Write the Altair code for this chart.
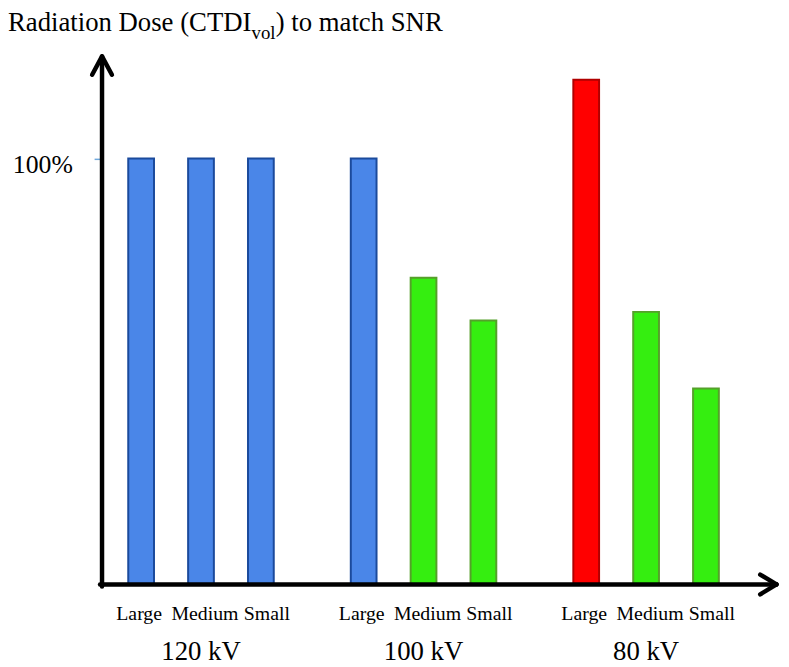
import altair as alt
import pandas as pd

# ---- data ----
kv_groups = ["120 kV", "100 kV", "80 kV"]
size_order = ["Large", "Medium", "Small"]
bar_kv = ["120 kV", "120 kV", "120 kV", "100 kV", "100 kV", "100 kV", "80 kV", "80 kV", "80 kV"]
bar_size = ["Large", "Medium", "Small", "Large", "Medium", "Small", "Large", "Medium", "Small"]
bar_dose = [100, 100, 100, 100, 72, 62, 118.5, 64, 46]
bar_kind = ["reference", "reference", "reference", "reference", "lower", "lower", "higher", "lower", "lower"]

kind_names = ["reference", "lower", "higher"]
kind_fill = ["#4a86e8", "#35ee10", "#ff0000"]
kind_stroke = ["#1b4a9c", "#55a02a", "#b00000"]

bars_df = pd.DataFrame({"kv": bar_kv, "size": bar_size, "dose": bar_dose, "kind": bar_kind})
groups_df = pd.DataFrame({"kv": kv_groups})
one = alt.Data(values=[{}])

W, H = 682, 534
FONT = "Liberation Serif"
AX = 4.5

x_scale = alt.Scale(paddingInner=0.1928, paddingOuter=0.113, align=0.182, round=False)
x_enc = alt.X("kv:N", sort=kv_groups, scale=x_scale, axis=None)
xo_enc = alt.XOffset("size:N", sort=size_order,
                     scale=alt.Scale(paddingInner=0.57, paddingOuter=0.285, round=False))

bars = alt.Chart(bars_df).mark_bar(strokeWidth=2).encode(
    x=x_enc,
    xOffset=xo_enc,
    y=alt.Y("dose:Q", scale=alt.Scale(domain=[0, 124.1], nice=False),
            axis=alt.Axis(values=[100], labelExpr="'100%'", title=None, domain=False, grid=False,
                          tickColor="#6fa8dc", tickSize=8, tickWidth=1.5,
                          labelFont=FONT, labelFontSize=26, labelColor="black",
                          labelPadding=22, labelBaseline="alphabetic", labelOffset=14)),
    fill=alt.Fill("kind:N", scale=alt.Scale(domain=kind_names, range=kind_fill), legend=None),
    stroke=alt.Stroke("kind:N", scale=alt.Scale(domain=kind_names, range=kind_stroke), legend=None),
)

def seg(x1, y1, x2, y2):
    return alt.Chart(one).mark_rule(color="black", strokeWidth=AX, strokeCap="round").encode(
        x=alt.value(x1), y=alt.value(y1), x2=alt.value(x2), y2=alt.value(y2))

axes = [
    seg(0, 1, 0, H + 2),          # y axis line
    seg(-2, H, W - 1, H),         # x axis line
    seg(-10, 19, 0, 0.5), seg(10, 19, 0, 0.5),      # y arrow head
    seg(W - 17, H - 10, W - 0.5, H), seg(W - 17, H + 10, W - 0.5, H),  # x arrow head
]

size_labels = []
for s, dx in zip(size_order, [-2, 4, 6]):
    size_labels.append(
        alt.Chart(bars_df).transform_filter(alt.datum.size == s)
        .mark_text(font=FONT, fontSize=20, baseline="alphabetic", align="center", dx=dx, color="black")
        .encode(x=x_enc, xOffset=xo_enc, y=alt.value(570), text="size:N")
    )

group_labels = alt.Chart(groups_df).mark_text(
    font=FONT, fontSize=27, baseline="alphabetic", align="center", color="black"
).encode(x=x_enc, y=alt.value(610), text="kv:N")

title_parts = [
    alt.Chart(one).mark_text(font=FONT, fontSize=27, baseline="alphabetic", align="left", color="black")
    .encode(x=alt.value(-95), y=alt.value(-25), text=alt.value("Radiation Dose (CTDI")),
    alt.Chart(one).mark_text(font=FONT, fontSize=19, baseline="alphabetic", align="left", color="black")
    .encode(x=alt.value(151), y=alt.value(-17.5), text=alt.value("vol")),
    alt.Chart(one).mark_text(font=FONT, fontSize=27, baseline="alphabetic", align="left", color="black")
    .encode(x=alt.value(175.5), y=alt.value(-25), text=alt.value(") to match SNR")),
]

chart = alt.layer(bars, *axes, *size_labels, group_labels, *title_parts).properties(
    width=W, height=H,
    autosize=alt.AutoSizeParams(type="none"),
    padding={"left": 95, "top": 45, "right": 4, "bottom": 80},
    background="white",
).configure_view(stroke=None)

chart.save("out.html", embed_options={"renderer": "svg", "actions": False})
